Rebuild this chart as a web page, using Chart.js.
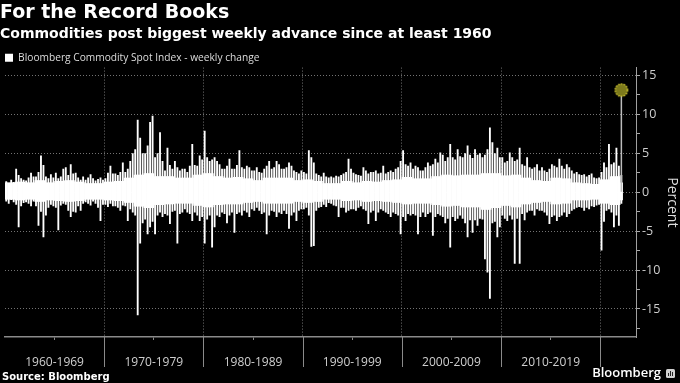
<!DOCTYPE html>
<html>
<head>
<meta charset="utf-8">
<script src="https://cdn.jsdelivr.net/npm/chart.js@4.4.1/dist/chart.umd.min.js"></script>
<style>
html,body{margin:0;padding:0;background:#000;}
#wrap{width:680px;height:383px;position:relative;background:#000;}
</style>
</head>
<body>
<div id="wrap"><canvas id="c"></canvas></div>
<script>
// ---- Data: weekly % changes ----
// Per quarter: largest weekly gain / deepest weekly loss
const firstYear = 1960;
const periodsPerYear = 4;

const up1960s = [1.4,1.2,1.6,1.3, 3.0,2.2,1.8,1.6, 1.5,1.9,2.5,2.0, 2.0,2.6,4.7,3.5, 2.0,1.8,2.3,1.9,
                 2.5,1.8,2.0,3.0, 3.2,2.2,3.6,2.4, 2.5,1.9,1.6,2.0, 1.6,1.9,2.3,1.8, 1.5,1.7,1.9,1.6];
const down1960s = [-1.2,-1.5,-1.0,-1.3, -1.6,-4.5,-1.8,-1.4, -1.3,-1.5,-1.8,-1.2, -1.8,-4.3,-2.5,-5.8, -3.0,-2.0,-1.6,-1.8,
                   -2.0,-4.9,-1.7,-1.5, -1.6,-2.4,-3.2,-2.5, -2.6,-1.8,-2.4,-1.5, -1.3,-1.5,-1.7,-1.2, -1.5,-2.0,-3.7,-1.6];

const up1970s = [1.8,2.5,3.4,2.4, 2.4,2.2,2.6,3.8, 2.6,3.0,4.0,5.0, 5.5,9.3,7.0,5.0, 5.0,6.0,9.0,9.8,
                 4.5,5.0,7.7,4.0, 2.8,5.7,3.5,3.0, 4.0,3.2,2.8,3.0, 3.0,2.6,3.4,6.2, 3.5,3.4,4.7,4.2];
const down1970s = [-1.6,-1.9,-1.5,-1.8, -1.8,-2.0,-2.4,-1.7, -1.8,-3.7,-2.2,-2.6, -3.0,-15.8,-6.6,-4.0, -3.5,-5.4,-4.5,-3.8,
                   -5.4,-3.0,-2.6,-3.2, -2.8,-3.0,-4.1,-2.5, -2.4,-6.6,-2.8,-2.6, -2.2,-2.6,-2.8,-3.7, -2.6,-3.0,-3.7,-3.2];

const up1980s = [7.9,4.5,4.0,4.2, 4.5,4.0,3.6,3.0, 3.0,3.4,4.3,3.0, 3.0,3.5,5.4,3.2, 3.0,3.4,3.2,2.8,
                 2.8,3.2,2.6,2.5, 3.0,3.4,4.0,3.0, 3.2,4.0,3.6,3.0, 3.0,3.2,3.8,3.4, 2.8,2.6,2.4,2.8];
const down1980s = [-6.6,-3.5,-3.0,-7.1, -4.5,-3.0,-3.2,-2.6, -2.8,-4.0,-3.0,-2.6, -5.2,-2.8,-2.6,-3.0, -2.4,-2.6,-3.2,-2.2,
                   -2.4,-2.0,-2.4,-2.8, -2.6,-5.4,-3.0,-2.4, -2.5,-3.2,-2.6,-2.8, -2.4,-2.8,-4.7,-3.0, -2.6,-3.7,-2.4,-2.2];

const up1990s = [2.6,2.4,5.4,4.5, 3.8,2.4,2.2,2.0, 2.5,2.0,1.9,2.0, 1.9,2.1,2.0,2.2, 2.4,2.6,4.3,3.0,
                 2.5,2.3,2.2,2.1, 3.2,2.8,2.4,2.6, 2.6,2.8,2.4,2.5, 3.4,2.4,2.6,2.8, 2.6,3.0,3.2,4.0];
const down1990s = [-2.2,-2.0,-3.0,-7.0, -6.9,-2.4,-2.0,-1.9, -1.6,-1.9,-1.4,-1.5, -1.7,-1.8,-3.2,-2.0, -2.0,-2.6,-2.4,-2.2,
                   -2.2,-2.4,-2.0,-1.8, -2.2,-2.4,-4.1,-2.6, -2.4,-3.7,-2.6,-2.2, -2.4,-2.6,-2.8,-3.2, -2.6,-2.8,-3.0,-5.4];

const up2000s = [5.4,3.6,3.4,3.8, 3.0,3.4,3.2,2.8, 2.8,3.2,3.8,3.4, 3.6,4.3,3.8,5.1, 4.8,4.0,4.5,6.2,
                 4.5,4.2,5.5,4.6, 4.5,5.0,6.0,4.8, 4.4,5.5,4.8,5.0, 4.5,4.8,5.5,8.3, 6.4,5.0,5.7,4.5];
const down2000s = [-3.2,-3.7,-2.8,-3.0, -2.8,-3.0,-5.4,-3.2, -2.6,-3.2,-2.8,-2.6, -5.6,-3.2,-2.8,-3.0, -3.2,-4.0,-3.4,-7.1,
                   -3.2,-3.7,-3.4,-3.0, -3.4,-4.0,-5.8,-3.6, -5.2,-3.6,-4.3,-3.4, -3.5,-8.6,-10.3,-13.7, -4.0,-3.8,-5.8,-4.5];

const up2010s = [4.5,3.8,4.0,5.1, 4.5,4.0,4.2,5.7, 3.6,3.4,4.5,3.2, 3.0,3.2,3.6,2.8, 3.2,2.8,2.6,3.0,
                 3.6,3.4,3.2,4.3, 3.4,3.0,3.6,3.2, 2.8,2.4,2.6,2.3, 2.2,2.3,2.0,2.2, 2.4,1.9,1.8,1.9];
const down2010s = [-3.0,-3.4,-3.7,-3.0, -3.5,-9.2,-3.4,-9.2, -2.8,-3.6,-2.6,-2.4, -2.4,-3.0,-2.2,-2.4, -2.4,-2.6,-3.0,-4.1,
                   -3.2,-3.0,-3.7,-3.2, -3.0,-2.6,-3.2,-2.8, -2.4,-2.2,-2.0,-1.9, -2.0,-2.4,-2.0,-2.2, -1.8,-1.9,-1.7,-1.6];

const up2020s = [2.6,3.8,3.2,6.2, 3.6,3.8,5.7,3.4, 2.2];
const down2020s = [-7.5,-3.8,-2.4,-2.2, -2.6,-4.5,-3.0,-4.3, -1.5];

// Per year: the dense (solid) band of ordinary weekly moves, 1960 .. 2022
const bandUp = [1.2,1.3,1.2,1.5,1.2,1.4,1.5,1.3,1.1,1.1,
                1.3,1.4,1.8,2.2,2.4,2.0,2.0,1.8,1.8,2.2,
                2.4,2.0,1.8,1.9,1.7,1.5,1.8,1.8,1.8,1.5,
                1.6,1.4,1.1,1.1,1.4,1.2,1.4,1.3,1.5,1.6,
                1.9,1.7,1.7,2.0,2.2,2.1,2.2,2.2,2.4,2.4,
                2.1,2.2,1.8,1.5,1.4,1.8,1.7,1.2,1.1,1.0,
                1.6,2.0,1.2];
const bandDown = [-0.9,-1.0,-0.9,-1.2,-1.0,-1.1,-1.2,-1.1,-0.9,-0.9,
                  -1.0,-1.1,-1.3,-1.8,-2.0,-1.6,-1.5,-1.4,-1.4,-1.7,
                  -1.9,-1.6,-1.5,-1.5,-1.3,-1.2,-1.4,-1.4,-1.4,-1.2,
                  -1.3,-1.2,-0.9,-0.9,-1.1,-1.0,-1.2,-1.1,-1.2,-1.3,
                  -1.5,-1.4,-1.4,-1.6,-1.8,-1.7,-1.9,-1.9,-2.2,-2.0,
                  -1.7,-1.9,-1.5,-1.3,-1.2,-1.5,-1.4,-1.0,-1.0,-0.9,
                  -1.4,-1.6,-1.0];

const latestWeek = 13.1;   // record weekly advance, early March 2022

const decadeLabels = ['1960-1969','1970-1979','1980-1989','1990-1999','2000-2009','2010-2019'];
const seriesLabel = 'Bloomberg Commodity Spot Index - weekly change';

// ---- Build datasets ----
const upAll = [].concat(up1960s, up1970s, up1980s, up1990s, up2000s, up2010s, up2020s);
const downAll = [].concat(down1960s, down1970s, down1980s, down1990s, down2000s, down2010s, down2020s);
const xAt = i => firstYear + (i + 0.5) / periodsPerYear;
const spikes = upAll.map((hi, i) => ({ x: xAt(i), y: [downAll[i], hi] }));
const band = upAll.map((_, i) => {
  const yr = Math.floor(i / periodsPerYear);
  return { x: xAt(i), y: [bandDown[yr], bandUp[yr]] };
});
const lastX = xAt(upAll.length - 1);

function makeMarker() {
  const c = document.createElement('canvas');
  c.width = 16; c.height = 16;
  const g = c.getContext('2d');
  g.beginPath();
  g.arc(8, 8, 6.2, 0, Math.PI * 2);
  g.fillStyle = '#7d7a1c';
  g.fill();
  g.setLineDash([1.6, 1.2]);
  g.lineWidth = 1.3;
  g.strokeStyle = '#e2d836';
  g.stroke();
  return c;
}

const gridGray = 'rgba(135,135,135,0.85)';
const clear = 'rgba(0,0,0,0)';

const decadeDividers = {
  id: 'decadeDividers',
  afterDraw(chart) {
    const xs = chart.scales.x, c = chart.ctx;
    c.save();
    c.strokeStyle = '#8a8a8a';
    c.lineWidth = 1;
    xs.ticks.forEach(t => {
      if (Math.round(t.value) % 10 === 0 && t.value > xs.min) {
        const px = Math.round(xs.getPixelForValue(t.value)) + 0.5;
        c.beginPath();
        c.moveTo(px, xs.top);
        c.lineTo(px, xs.top + 30);
        c.stroke();
      }
    });
    c.restore();
  }
};

const footer = {
  id: 'footer',
  afterDraw(chart) {
    const c = chart.ctx, W = chart.width, H = chart.height;
    c.save();
    c.fillStyle = '#fff';
    c.textBaseline = 'alphabetic';
    c.textAlign = 'left';
    c.font = "bold 10px 'DejaVu Sans'";
    c.fillText('Source: Bloomberg', 2, H - 3);
    c.font = "600 13px 'Open Sans'";
    c.textAlign = 'right';
    c.fillText('Bloomberg', W - 19, H - 6);
    const bx = W - 14, by = H - 14, s = 9;
    c.fillStyle = '#d0d0d0';
    c.beginPath();
    c.roundRect(bx, by, s, s, 1.5);
    c.fill();
    c.fillStyle = '#222';
    c.fillRect(bx + 2, by + 4, 1, 3);
    c.fillRect(bx + 4, by + 2, 1, 5);
    c.fillRect(bx + 6, by + 3, 1, 4);
    c.restore();
  }
};

Chart.defaults.font.family = "'Open Sans', sans-serif";

new Chart(document.getElementById('c'), {
  type: 'bar',
  data: {
    datasets: [
      {
        label: seriesLabel,
        data: spikes,
        backgroundColor: '#ffffff',
        borderWidth: 0,
        grouped: false,
        barPercentage: 0.75,
        categoryPercentage: 1,
        order: 4
      },
      {
        label: 'band',
        data: band,
        backgroundColor: '#ffffff',
        borderWidth: 0,
        grouped: false,
        barPercentage: 1,
        categoryPercentage: 1,
        order: 3
      },
      {
        label: 'latest',
        data: [{ x: lastX, y: latestWeek }],
        backgroundColor: '#bdbdbd',
        borderWidth: 0,
        grouped: false,
        barPercentage: 0.6,
        categoryPercentage: 1,
        order: 2
      },
      {
        type: 'scatter',
        label: 'record',
        data: [{ x: lastX, y: latestWeek }],
        pointStyle: makeMarker(),
        order: 1
      }
    ]
  },
  options: {
    responsive: true,
    maintainAspectRatio: false,
    animation: false,
    layout: { padding: { left: 0, right: 0, top: 0, bottom: 17 } },
    plugins: {
      title: {
        display: true, text: 'For the Record Books', align: 'start', color: '#fff',
        font: { family: "'DejaVu Sans'", weight: 'bold', size: 19, lineHeight: 1.2 },
        padding: { top: 2, bottom: 0 }
      },
      subtitle: {
        display: true, text: 'Commodities post biggest weekly advance since at least 1960', align: 'start', color: '#fff',
        font: { family: "'DejaVu Sans'", weight: 'bold', size: 14, lineHeight: 1.2 },
        padding: { top: 1, bottom: 5 }
      },
      legend: {
        display: true, align: 'start', maxHeight: 20,
        labels: {
          filter: item => item.datasetIndex === 0,
          boxWidth: 8, boxHeight: 8, padding: 5, color: '#ddd',
          font: { size: 10.2 }
        }
      },
      tooltip: { enabled: false }
    },
    scales: {
      x: {
        type: 'linear', min: 1960, max: 2023.6, offset: false,
        grid: {
          offset: false, lineWidth: 1, tickLength: 3, tickWidth: 1, tickBorderDash: [],
          color: ctx => (ctx.tick && Math.round(ctx.tick.value) % 10 === 0 && ctx.tick.value > 1960) ? gridGray : clear,
          tickColor: ctx => (ctx.tick && Math.round(ctx.tick.value) % 10 === 5) ? '#888' : clear
        },
        border: { display: true, color: '#8a8a8a', width: 1.5, dash: [1, 2] },
        ticks: {
          stepSize: 5, autoSkip: false, maxRotation: 0, includeBounds: false,
          padding: 15, color: '#cfcfcf', font: { size: 12 },
          callback: v => (Math.round(v) % 10 === 5) ? (decadeLabels[(Math.round(v) - 1965) / 10] || '') : ''
        },
        afterFit: s => { s.height = 29; s.paddingLeft = 0; s.paddingRight = 0; }
      },
      y: {
        position: 'right', min: -18.6, max: 16,
        grid: {
          lineWidth: 1, tickLength: 4, tickWidth: 1, tickBorderDash: [],
          color: ctx => (ctx.tick && ctx.tick.value % 5 === 0) ? gridGray : clear,
          tickColor: '#aaa'
        },
        border: { display: true, color: '#a0a0a0', width: 1, dash: [1, 2] },
        ticks: {
          stepSize: 2.5, autoSkip: false, includeBounds: false,
          padding: 2, color: '#cfcfcf', font: { size: 12.5 },
          callback: v => (v % 5 === 0) ? String(v) : ''
        },
        title: { display: true, text: 'Percent', color: '#ddd', font: { size: 14 }, padding: 0 },
        afterFit: s => { s.width = 44; }
      }
    }
  },
  plugins: [decadeDividers, footer]
});
</script>
</body>
</html>
